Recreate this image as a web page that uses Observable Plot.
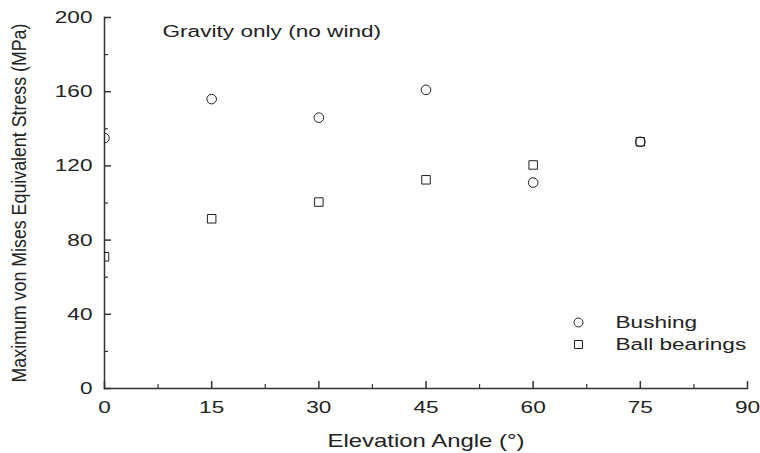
<!DOCTYPE html>
<html><head><meta charset="utf-8">
<script src="https://cdn.jsdelivr.net/npm/d3@7"></script>
<script src="https://cdn.jsdelivr.net/npm/@observablehq/plot@0.6"></script>
<style>body{margin:0;background:#fff}</style>
</head><body><div id="chart"></div>
<script>
const angles = [0, 15, 30, 45, 60, 75];
const bushing = [135, 156, 146, 161, 111, 133];
const ballBearings = [71, 91.5, 100.5, 112.5, 120.5, 133];
const seriesNames = ["Bushing", "Ball bearings"];
const xTicks = [0, 15, 30, 45, 60, 75, 90];
const xMinorTicks = [7.5, 22.5, 37.5, 52.5, 67.5, 82.5];
const yTicks = [0, 40, 80, 120, 160, 200];
const yMinorTicks = [20, 60, 100, 140, 180];
const titleText = "Gravity only (no wind)";
const xLabel = "Elevation Angle (°)";
const yLabel = "Maximum von Mises Equivalent Stress (MPa)";

const W = 760, H = 453, mL = 104, mR = 13, mT = 17, mB = 65;
const plotW = W - mL - mR, plotH = H - mT - mB;
const ink = "#222";
const axisInk = "#333";
const fs = 17;

const bushingData = angles.map((a, i) => ({angle: a, stress: bushing[i]}));
const ballData = angles.map((a, i) => ({angle: a, stress: ballBearings[i]}));

const svg = Plot.plot({
  width: W, height: H,
  marginLeft: mL, marginRight: mR, marginTop: mT, marginBottom: mB,
  style: {fontFamily: "'Liberation Sans', Arial, sans-serif", color: ink, background: "#fff"},
  x: {domain: [0, 90]},
  y: {domain: [0, 200]},
  marks: [
    Plot.frame({anchor: "left", stroke: axisInk, strokeWidth: 1.5}),
    Plot.frame({anchor: "bottom", stroke: axisInk, strokeWidth: 1.5}),
    Plot.tickX(xTicks, {x: d => d, insetTop: plotH - 7, stroke: axisInk, strokeWidth: 1.5}),
    Plot.tickX(xMinorTicks, {x: d => d, insetTop: plotH - 4, stroke: axisInk, strokeWidth: 1.2}),
    Plot.tickY(yTicks, {y: d => d, insetRight: plotW - 7, stroke: axisInk, strokeWidth: 1.5}),
    Plot.tickY(yMinorTicks, {y: d => d, insetRight: plotW - 4, stroke: axisInk, strokeWidth: 1.2}),
    Plot.axisX(xTicks, {tickSize: 0, tickPadding: 12, fontSize: fs, label: null, fill: ink}),
    Plot.axisY(yTicks, {tickSize: 0, tickPadding: 12, fontSize: fs, label: null, fill: ink}),
    Plot.dot(bushingData, {x: "angle", y: "stress", symbol: "circle", r: 4.8, stroke: ink, strokeWidth: 1, fill: "none", clip: true}),
    Plot.dot(ballData, {x: "angle", y: "stress", symbol: "square", r: 4.8, stroke: ink, strokeWidth: 1, fill: "none", clip: true}),
    Plot.text([titleText], {frameAnchor: "top-left", text: d => d, textAnchor: "start", lineAnchor: "middle", dx: 58, dy: 14.5, fontSize: fs, fill: ink}),
    Plot.text([xLabel], {frameAnchor: "bottom", text: d => d, textAnchor: "middle", lineAnchor: "middle", dy: 53, fontSize: 18, fill: ink}),
    Plot.text([yLabel], {frameAnchor: "left", text: d => d, textAnchor: "middle", lineAnchor: "middle", rotate: -90, dx: -85, dy: 0, fontSize: 17.8, fill: ink}),
    Plot.dot([seriesNames[0]], {frameAnchor: "top-left", dx: 474, dy: 305, symbol: "circle", r: 4.5, stroke: ink, strokeWidth: 1, fill: "none"}),
    Plot.dot([seriesNames[1]], {frameAnchor: "top-left", dx: 474, dy: 327, symbol: "square", r: 4.5, stroke: ink, strokeWidth: 1, fill: "none"}),
    Plot.text([seriesNames[0]], {frameAnchor: "top-left", text: d => d, textAnchor: "start", lineAnchor: "middle", dx: 511, dy: 305.5, fontSize: fs, fill: ink}),
    Plot.text([seriesNames[1]], {frameAnchor: "top-left", text: d => d, textAnchor: "start", lineAnchor: "middle", dx: 511, dy: 327, fontSize: fs, fill: ink})
  ]
});

// widen glyphs horizontally like the reference
d3.select(svg).selectAll("text").each(function () {
  const t = this.getAttribute("transform") || "";
  const x = parseFloat(this.getAttribute("x")) || 0;
  this.removeAttribute("x");
  if (t.includes("rotate")) {
    this.setAttribute("transform", `${t} translate(${x},0) scale(1,1.15)`);
  } else {
    this.setAttribute("transform", `${t} translate(${x},0) scale(1.33,1)`);
  }
});

document.getElementById("chart").appendChild(svg);
</script>
</body></html>
